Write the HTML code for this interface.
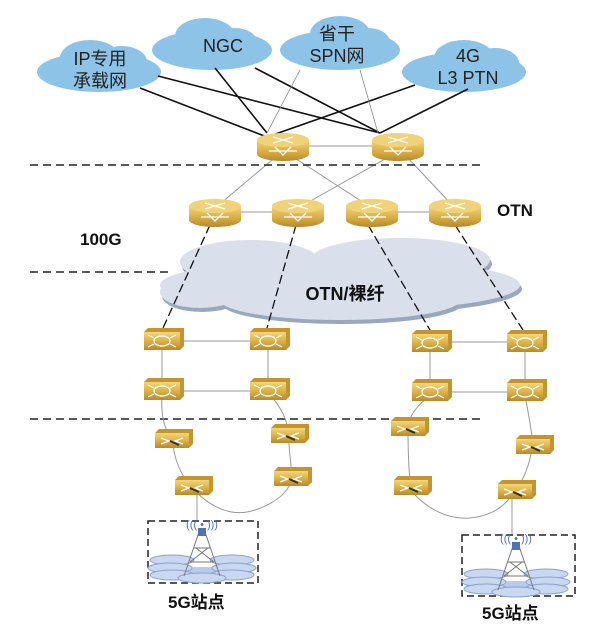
<!DOCTYPE html>
<html><head><meta charset="utf-8"><style>
html,body{margin:0;padding:0;background:#fff;width:600px;height:627px;overflow:hidden}
svg{display:block}
text{font-family:"Liberation Sans","Noto Sans CJK SC",sans-serif}
</style></head><body>
<svg width="600" height="627" viewBox="0 0 600 627" xmlns="http://www.w3.org/2000/svg">
<defs>
<linearGradient id="gold" x1="0" y1="0" x2="0" y2="1">
<stop offset="0" stop-color="#f3d67a"/><stop offset="0.5" stop-color="#dcb14a"/><stop offset="1" stop-color="#b88a28"/>
</linearGradient>
<g id="rt">
<path d="M-26,-6 v14 a26,7 0 0 0 52,0 v-14 z" fill="url(#gold)"/>
<ellipse cx="0" cy="-6" rx="26" ry="7" fill="#f0d27a"/>
<path d="M-10,-9 l20,6 M-10,-3 l20,-6 M-14,5 h28 M-8,1 l8,8 l8,-8" stroke="#fff" stroke-width="1.3" fill="none"/>
</g>
<g id="sw">
<path d="M-18,-8 l4,-4 h36 v18 l-4,4 z" fill="#c4952e"/>
<rect x="-18" y="-8" width="36" height="18" fill="url(#gold)"/>
<ellipse cx="0" cy="1" rx="8" ry="5" fill="none" stroke="#fff" stroke-width="1.3"/>
<path d="M-14,-5 l6,3 M14,-5 l-6,3 M-14,7 l6,-3 M14,7 l-6,-3" stroke="#fff" stroke-width="1.2"/>
</g>
<g id="sm">
<path d="M-17,-7 l4,-4 h34 v15 l-4,4 z" fill="#c4952e"/>
<rect x="-17" y="-7" width="34" height="15" fill="url(#gold)"/>
<path d="M-11,-2 l8,3 l-8,3 M11,-2 l-8,3 l8,3" stroke="#fff" stroke-width="1.3" fill="none"/>
<path d="M-2,1 l9,4" stroke="#332" stroke-width="2"/>
</g>
<g id="site">
<ellipse cx="0" cy="32" rx="52" ry="7" fill="#b9cbea"/>
<ellipse cx="-30" cy="18" rx="22" ry="5" fill="#c9d8f0" stroke="#8aa3cf"/>
<ellipse cx="30" cy="18" rx="22" ry="5" fill="#c9d8f0" stroke="#8aa3cf"/>
<ellipse cx="-32" cy="26" rx="22" ry="5" fill="#c9d8f0" stroke="#8aa3cf"/>
<ellipse cx="32" cy="26" rx="22" ry="5" fill="#c9d8f0" stroke="#8aa3cf"/>
<ellipse cx="-30" cy="33" rx="22" ry="5" fill="#c9d8f0" stroke="#8aa3cf"/>
<ellipse cx="30" cy="33" rx="22" ry="5" fill="#c9d8f0" stroke="#8aa3cf"/>
<ellipse cx="0" cy="36" rx="24" ry="5" fill="#c9d8f0" stroke="#8aa3cf"/>
<path d="M-3,-10 L-18,34 M3,-10 L18,34 M-8,6 h16 M-12,20 h24 M-6,6 L12,20 M6,6 L-12,20" stroke="#777" stroke-width="1" fill="none"/>
<rect x="-4" y="-14" width="8" height="8" fill="#5571b5"/>
<text x="0" y="-14" text-anchor="middle" font-size="11" fill="#5571b5">((( • )))</text>
</g>
</defs>

<!-- clouds top -->
<g fill="#8ec3e8">
<ellipse cx="99" cy="72" rx="62" ry="20"/><ellipse cx="90" cy="58" rx="30" ry="18"/><ellipse cx="122" cy="62" rx="25" ry="16"/>
<ellipse cx="212" cy="50" rx="60" ry="20"/><ellipse cx="205" cy="36" rx="30" ry="18"/><ellipse cx="235" cy="42" rx="22" ry="14"/>
<ellipse cx="340" cy="50" rx="60" ry="20"/><ellipse cx="340" cy="34" rx="30" ry="18"/><ellipse cx="368" cy="42" rx="22" ry="14"/>
<ellipse cx="464" cy="72" rx="62" ry="20"/><ellipse cx="464" cy="58" rx="30" ry="18"/><ellipse cx="495" cy="63" rx="24" ry="15"/>
</g>
<g font-size="18" fill="#222" text-anchor="middle">
<text x="100" y="65">IP专用</text><text x="100" y="87">承载网</text>
<text x="223" y="52">NGC</text>
<text x="337" y="40">省干</text><text x="337" y="62">SPN网</text>
<text x="468" y="62">4G</text><text x="468" y="84">L3 PTN</text>
</g>
<g stroke="#111" stroke-width="1.6">
<line x1="140" y1="88" x2="267" y2="137"/><line x1="158" y1="76" x2="380" y2="133"/>
<line x1="215" y1="68" x2="267" y2="133"/><line x1="255" y1="68" x2="380" y2="133"/>
<line x1="415" y1="85" x2="267" y2="137"/><line x1="468" y1="89" x2="380" y2="133"/>
</g>
<g stroke="#888" stroke-width="0.8">
<line x1="300" y1="70" x2="267" y2="133"/><line x1="360" y1="70" x2="378" y2="133"/>
</g>

<g stroke="#999" stroke-width="1">
<line x1="283" y1="146" x2="398" y2="146"/>
<line x1="278" y1="155" x2="215" y2="208"/><line x1="290" y1="155" x2="372" y2="208"/>
<line x1="392" y1="155" x2="298" y2="208"/><line x1="405" y1="155" x2="455" y2="208"/>
<line x1="215" y1="212" x2="298" y2="212"/><line x1="372" y1="212" x2="455" y2="212"/>
</g>
<g stroke="#222" stroke-width="1.5" stroke-dasharray="8,5">
<line x1="30" y1="165" x2="485" y2="165"/>
<line x1="30" y1="272" x2="170" y2="272"/>
<line x1="30" y1="419" x2="485" y2="419"/>
</g>

<!-- big cloud -->
<g fill="#9aa8bf" transform="translate(2,4)">
<ellipse cx="340" cy="285" rx="180" ry="26"/><ellipse cx="250" cy="262" rx="70" ry="22"/><ellipse cx="400" cy="260" rx="90" ry="22"/><ellipse cx="340" cy="300" rx="120" ry="20"/><ellipse cx="200" cy="292" rx="40" ry="16"/>
</g>
<g fill="#d9e0eb">
<ellipse cx="340" cy="285" rx="180" ry="26"/><ellipse cx="250" cy="262" rx="70" ry="22"/><ellipse cx="400" cy="260" rx="90" ry="22"/><ellipse cx="340" cy="300" rx="120" ry="20"/><ellipse cx="200" cy="292" rx="40" ry="16"/>
</g>
<text x="345" y="300" font-size="18" font-weight="bold" text-anchor="middle" fill="#111">OTN/裸纤</text>

<g stroke="#111" stroke-width="1.3" stroke-dasharray="9,4">
<line x1="210" y1="225" x2="163" y2="328"/><line x1="296" y1="225" x2="267" y2="328"/>
<line x1="368" y1="225" x2="430" y2="330"/><line x1="455" y1="225" x2="523" y2="330"/>
</g>

<use href="#rt" x="283" y="146"/><use href="#rt" x="398" y="146"/>
<use href="#rt" x="215" y="212"/><use href="#rt" x="298" y="212"/><use href="#rt" x="372" y="212"/><use href="#rt" x="455" y="212"/>

<g stroke="#999" stroke-width="1" fill="none">
<line x1="162" y1="341" x2="268" y2="341"/><line x1="162" y1="391" x2="268" y2="391"/>
<line x1="162" y1="341" x2="162" y2="391"/><line x1="268" y1="341" x2="268" y2="391"/>
<line x1="430" y1="342" x2="525" y2="342"/><line x1="430" y1="392" x2="525" y2="392"/>
<line x1="430" y1="342" x2="430" y2="392"/><line x1="525" y1="342" x2="525" y2="392"/>
<path d="M162,395 Q160,425 172,438 Q175,470 192,487"/>
<path d="M270,395 Q288,415 288,434 L292,477"/>
<path d="M196,492 Q225,520 255,510 Q285,500 292,480"/>
<path d="M430,396 Q410,410 408,427 Q408,470 411,487"/>
<path d="M525,396 Q530,420 533,444 Q528,475 515,491"/>
<path d="M415,495 Q440,520 470,518 Q500,515 513,493"/>
<line x1="197" y1="494" x2="197" y2="521"/><line x1="512" y1="496" x2="512" y2="535"/>
</g>
<use href="#sw" x="162" y="340"/><use href="#sw" x="268" y="340"/><use href="#sw" x="430" y="342"/><use href="#sw" x="525" y="342"/>
<use href="#sw" x="162" y="390"/><use href="#sw" x="268" y="390"/><use href="#sw" x="430" y="391"/><use href="#sw" x="525" y="391"/>
<use href="#sm" x="172" y="440"/><use href="#sm" x="288" y="435"/><use href="#sm" x="408" y="428"/><use href="#sm" x="533" y="446"/>
<use href="#sm" x="192" y="487"/><use href="#sm" x="291" y="478"/><use href="#sm" x="411" y="487"/><use href="#sm" x="515" y="491"/>

<g stroke="#222" stroke-width="1.5" stroke-dasharray="7,4" fill="none">
<rect x="148" y="521" width="110" height="62"/>
<rect x="462" y="535" width="113" height="61"/>
</g>
<use href="#site" x="202" y="542"/><use href="#site" x="516" y="556"/>

<g font-size="17" font-weight="bold" fill="#111">
<text x="497" y="216">OTN</text>
<text x="80" y="245">100G</text>
<text x="168" y="608">5G站点</text>
<text x="482" y="619">5G站点</text>
</g>
</svg>
</body></html>
